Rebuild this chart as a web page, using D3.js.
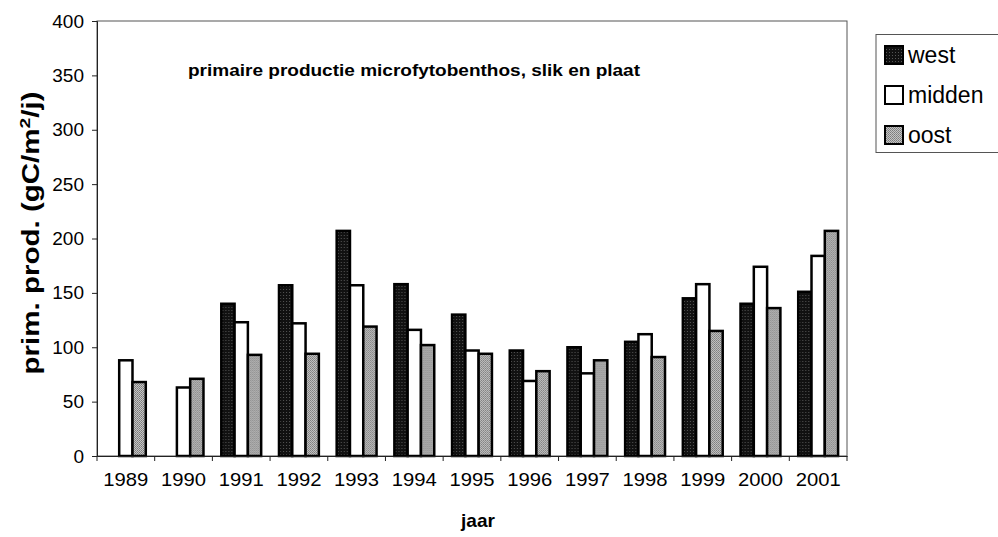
<!DOCTYPE html>
<html>
<head>
<meta charset="utf-8">
<script src="https://cdn.jsdelivr.net/npm/d3@7"></script>
<style>
  body { margin: 0; background: #fff; }
  svg { font-family: Arial, "Liberation Sans", sans-serif; }
</style>
</head>
<body>
<div id="chart"></div>
<script>
// data
const years = ["1989", "1990", "1991", "1992", "1993", "1994", "1995", "1996", "1997", "1998", "1999", "2000", "2001"]
const series = ["west", "midden", "oost"]
const west = [null, null, 140, 157, 207, 158, 130, 97, 100, 105, 145, 140, 151]
const midden = [88, 63, 123, 122, 157, 116, 97, 69, 76, 112, 158, 174, 184]
const oost = [68, 71, 93, 94, 119, 102, 94, 78, 88, 91, 115, 136, 207]
const yTicks = [0, 50, 100, 150, 200, 250, 300, 350, 400]

const fills = { west: "url(#pWest)", midden: "#fff", oost: "url(#pOost)" }

const width = 998
const height = 537
const margin = { left: 97, right: 151, top: 21, bottom: 81 }

const rows = years.map((y, i) => ({ year: y, west: west[i], midden: midden[i], oost: oost[i] }))

const $svg = d3.select("#chart").append("svg")
    .attr("width", width)
    .attr("height", height)

// stippled fills like the scan
const defs = $svg.append("defs")
const pw = defs.append("pattern").attr("id", "pWest")
    .attr("width", 3).attr("height", 3).attr("patternUnits", "userSpaceOnUse")
pw.append("rect").attr("width", 3).attr("height", 3).attr("fill", "#111")
pw.append("rect").attr("x", 1).attr("y", 1).attr("width", 1).attr("height", 1).attr("fill", "#555")
const po = defs.append("pattern").attr("id", "pOost")
    .attr("width", 2).attr("height", 2).attr("patternUnits", "userSpaceOnUse")
po.append("rect").attr("width", 2).attr("height", 2).attr("fill", "#c4c4c4")
po.append("rect").attr("width", 1).attr("height", 1).attr("fill", "#7a7a7a")
po.append("rect").attr("x", 1).attr("y", 1).attr("width", 1).attr("height", 1).attr("fill", "#8a8a8a")

const x0 = d3.scaleBand()
    .domain(years)
    .range([margin.left, width - margin.right])

const x1 = d3.scaleBand()
    .domain(series)
    .range([0, x0.bandwidth()])
    .paddingInner(0)
    .paddingOuter(0.67)

const y = d3.scaleLinear()
    .domain([0, 400])
    .range([height - margin.bottom, margin.top])

// plot frame
$svg.append("rect")
    .attr("x", margin.left)
    .attr("y", margin.top)
    .attr("width", width - margin.right - margin.left)
    .attr("height", y(0) - margin.top)
    .attr("fill", "none")
    .attr("stroke", "#555")
    .attr("stroke-width", 1)

// bars
const $groups = $svg.selectAll(".grp")
    .data(rows)
    .enter().append("g")
    .attr("class", "grp")
    .attr("transform", d => `translate(${x0(d.year)},0)`)

$groups.selectAll("rect")
    .data(d => series.map(s => ({ key: s, value: d[s] })).filter(e => e.value != null))
    .enter().append("rect")
    .attr("x", d => x1(d.key))
    .attr("width", x1.bandwidth())
    .attr("y", d => y(d.value))
    .attr("height", d => y(0) - y(d.value))
    .attr("fill", d => fills[d.key])
    .attr("stroke", "#000")
    .attr("stroke-width", 2.5)

// y axis
const yAxis = g => g.attr("transform", `translate(${margin.left},0)`)
    .call(d3.axisLeft(y).tickValues(yTicks).tickSize(5).tickPadding(8))
$svg.append("g")
    .call(yAxis)
    .call(g => g.selectAll("text").attr("font-size", 19).attr("fill", "#000").attr("font-family", "Arial, 'Liberation Sans', sans-serif"))
    .call(g => g.selectAll("line, path").attr("stroke", "#222"))

// x axis, ticks on the category borders
const xAxis = g => g.attr("transform", `translate(0,${y(0)})`)
    .call(d3.axisBottom(x0).tickSize(0).tickPadding(17))
$svg.append("g")
    .call(xAxis)
    .call(g => g.selectAll("text").attr("font-size", 19).attr("fill", "#000").attr("font-family", "Arial, 'Liberation Sans', sans-serif")
        .attr("textLength", 45).attr("lengthAdjust", "spacingAndGlyphs"))
    .call(g => g.select("path").attr("stroke", "#222"))

$svg.append("g")
    .selectAll("line")
    .data(years.concat(["end"]))
    .enter().append("line")
    .attr("x1", (d, i) => margin.left + i * x0.step())
    .attr("x2", (d, i) => margin.left + i * x0.step())
    .attr("y1", y(0))
    .attr("y2", y(0) + 5)
    .attr("stroke", "#222")

// title
$svg.append("text")
    .attr("x", 188)
    .attr("y", 76)
    .attr("font-size", 17)
    .attr("font-weight", "bold")
    .attr("textLength", 452)
    .attr("lengthAdjust", "spacingAndGlyphs")
    .text("primaire productie microfytobenthos, slik en plaat")

// axis titles
const $yl = $svg.append("text")
    .attr("transform", `translate(39,233) rotate(-90)`)
    .attr("text-anchor", "middle")
    .attr("font-size", 23)
    .attr("font-weight", "bold")
    .attr("textLength", 283)
    .attr("lengthAdjust", "spacingAndGlyphs")
$yl.append("tspan").text("prim. prod. (gC/m")
$yl.append("tspan").attr("font-size", 15).attr("dy", -9).text("2")
$yl.append("tspan").attr("dy", 9).text("/j)")

$svg.append("text")
    .attr("x", 478)
    .attr("y", 527)
    .attr("text-anchor", "middle")
    .attr("font-size", 19)
    .attr("font-weight", "bold")
    .text("jaar")

// legend
const $leg = $svg.append("g")
$leg.append("rect")
    .attr("x", 876)
    .attr("y", 34.5)
    .attr("width", 140)
    .attr("height", 118)
    .attr("fill", "#fff")
    .attr("stroke", "#555")

const legY = d3.scalePoint().domain(series).range([55, 135])

$leg.selectAll(".sw")
    .data(series)
    .enter().append("rect")
    .attr("class", "sw")
    .attr("x", 885)
    .attr("y", d => legY(d) - 9)
    .attr("width", 18)
    .attr("height", 18)
    .attr("fill", d => fills[d])
    .attr("stroke", "#000")
    .attr("stroke-width", 2)

$leg.selectAll(".lt")
    .data(series)
    .enter().append("text")
    .attr("class", "lt")
    .attr("x", 908)
    .attr("y", d => legY(d) + 8)
    .attr("font-size", 23)
    .text(d => d)
</script>
</body>
</html>
